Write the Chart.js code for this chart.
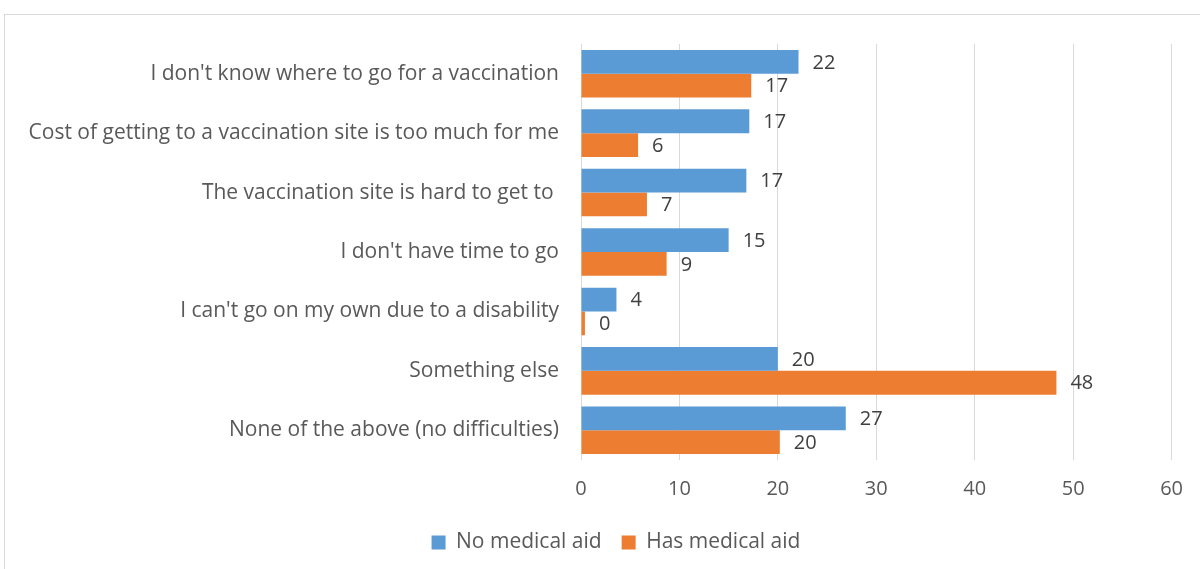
<!DOCTYPE html>
<html>
<head>
<meta charset="utf-8">
<script src="https://cdn.jsdelivr.net/npm/chart.js@4/dist/chart.umd.min.js"></script>
<style>
  html, body { margin: 0; padding: 0; background: #fff; overflow: hidden; }
  #frame { position: absolute; left: 4px; top: 14px; width: 1220px; height: 600px; border: 1px solid #d9d9d9; box-sizing: border-box; }
  #wrap { position: absolute; left: 0; top: 0; width: 1200px; height: 569px; }
</style>
</head>
<body>
<div id="frame"></div>
<div id="wrap"><canvas id="c"></canvas></div>
<script>
// Survey: difficulties getting vaccinated, by medical aid status (%)
const categories = [
  "I don't know where to go for a vaccination",
  'Cost of getting to a vaccination site is too much for me',
  'The vaccination site is hard to get to ',
  "I don't have time to go",
  "I can't go on my own due to a disability",
  'Something else',
  'None of the above (no difficulties)',
];
const noMedicalAid = [22.1, 17.1, 16.8, 15.0, 3.6, 20.0, 26.9];
const hasMedicalAid = [17.3, 5.8, 6.7, 8.7, 0.4, 48.3, 20.2];
const xTicks = [0, 10, 20, 30, 40, 50, 60];

const FONT = '"Open Sans", "Noto Sans", sans-serif';

// value labels to the right of each bar
const valueLabels = {
  id: 'valueLabels',
  afterDatasetsDraw(chart) {
    const { ctx } = chart;
    ctx.save();
    ctx.font = `20px ${FONT}`;
    ctx.fillStyle = '#404040';
    ctx.textAlign = 'left';
    ctx.textBaseline = 'middle';
    chart.data.datasets.forEach((ds, i) => {
      chart.getDatasetMeta(i).data.forEach((bar, j) => {
        ctx.fillText(String(Math.round(ds.data[j])), bar.x + 14, bar.y + 1);
      });
    });
    ctx.restore();
  },
};

// legend is centred on the whole frame, not the padded area
const shiftLegend = {
  id: 'shiftLegend',
  afterLayout(chart) {
    const lg = chart.legend;
    lg.left += 30; lg.right += 30;
    lg.top += 2; lg.bottom += 2;
  },
};

new Chart(document.getElementById('c'), {
  type: 'bar',
  data: {
    labels: categories,
    datasets: [
      { label: 'No medical aid', data: noMedicalAid, backgroundColor: '#5b9bd5' },
      { label: 'Has medical aid', data: hasMedicalAid, backgroundColor: '#ed7d31' },
    ],
  },
  options: {
    indexAxis: 'y',
    responsive: true, maintainAspectRatio: false, animation: false,
    layout: { padding: { top: 44, right: 28, bottom: 8, left: 0 } },
    datasets: { bar: { categoryPercentage: 0.8, barPercentage: 1.0, borderWidth: 0 } },
    plugins: {
      tooltip: { enabled: false },
      legend: {
        position: 'bottom',
        labels: {
          color: '#595959', font: { family: FONT, size: 21 },
          boxWidth: 14, boxHeight: 14, padding: 20,
        },
      },
    },
    scales: {
      x: {
        min: 0, max: 60,
        afterBuildTicks: (axis) => { axis.ticks = xTicks.map(v => ({ value: v })); },
        afterFit: (axis) => { axis.height = 50; },
        grid: { color: '#d9d9d9', drawTicks: false },
        border: { display: false },
        ticks: { color: '#595959', font: { family: FONT, size: 20 }, padding: 17 },
      },
      y: {
        afterFit: (axis) => { axis.width = 581; },
        grid: { display: false },
        border: { display: false },
        ticks: { color: '#595959', font: { family: FONT, size: 21 }, padding: 14 },
      },
    },
  },
  plugins: [valueLabels, shiftLegend],
});
</script>
</body>
</html>
